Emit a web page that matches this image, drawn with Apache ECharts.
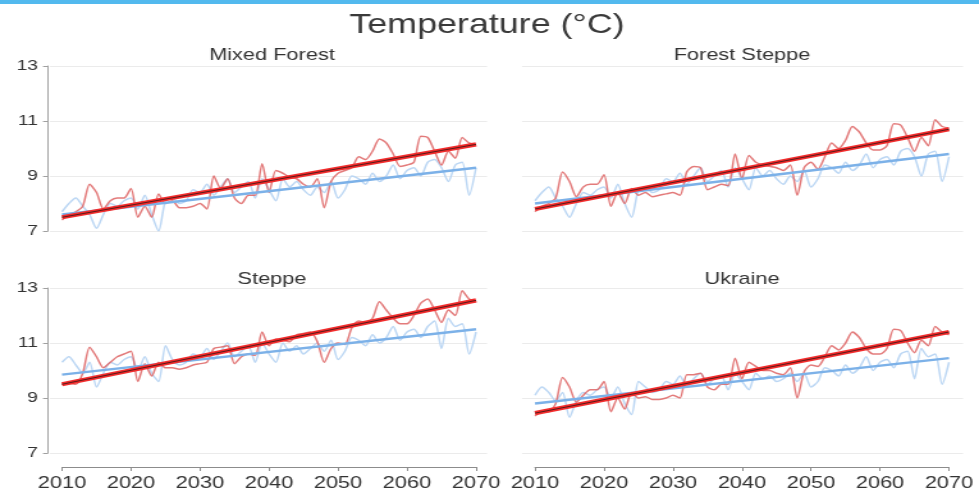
<!DOCTYPE html>
<html><head><meta charset="utf-8">
<script src="https://cdn.jsdelivr.net/npm/echarts@6/dist/echarts.min.js"></script>
<style>
html,body{margin:0;padding:0;background:#fff;overflow:hidden}
#wrap{width:979px;height:496px;overflow:hidden;position:relative;background:#fff}
#c{position:absolute;left:0;top:0;height:496px;transform-origin:0 0}
</style></head>
<body><div id="wrap"><div id="c"></div></div>
<script>
// ---------- data ----------
const years = [2010,2011,2012,2013,2014,2015,2016,2017,2018,2019,
  2020,2021,2022,2023,2024,2025,2026,2027,2028,2029,
  2030,2031,2032,2033,2034,2035,2036,2037,2038,2039,
  2040,2041,2042,2043,2044,2045,2046,2047,2048,2049,
  2050,2051,2052,2053,2054,2055,2056,2057,2058,2059,
  2060,2061,2062,2063,2064,2065,2066,2067,2068,2069,2070];
const xTicks = [2010,2020,2030,2040,2050,2060,2070];
const yTicks = [7,9,11,13];
const panelNames = ['Mixed Forest','Forest Steppe','Steppe','Ukraine'];

const mixedForestRed = [7.4,7.6,7.7,7.9,8.7,8.4,7.8,8.1,8.2,8.2,
  8.55,7.5,7.9,7.5,8.35,8.0,8.1,7.85,7.85,7.9,
  8.0,7.8,9.0,8.55,8.9,8.2,8.0,8.3,8.3,9.45,
  8.4,9.2,9.1,8.95,8.9,8.7,8.6,8.9,7.85,8.8,
  9.1,9.2,9.3,9.7,9.6,9.9,10.35,10.2,9.8,9.35,
  9.4,9.5,10.45,10.4,9.9,9.4,9.9,9.65,10.4,10.2,10.15];
const mixedForestBlue = [7.7,8.0,8.2,7.9,7.6,7.1,7.6,8.0,7.9,8.1,
  8.2,7.8,8.3,7.6,7.0,8.1,8.2,8.0,8.1,8.5,
  8.4,8.7,8.3,8.6,8.9,8.4,8.6,8.8,8.2,8.9,
  8.5,8.1,8.9,8.6,8.8,8.5,8.3,8.6,8.4,8.8,
  8.2,8.5,9.0,8.9,8.7,9.1,8.8,9.0,9.4,8.9,
  9.2,9.3,9.0,9.5,9.6,9.3,8.8,9.4,9.5,8.3,9.3];

const forestSteppeRed = [7.7,7.9,8.0,8.2,9.15,8.8,8.25,8.6,8.7,8.7,
  9.05,7.9,8.4,8.0,8.55,8.3,8.4,8.25,8.3,8.35,
  8.4,8.3,9.15,9.35,9.3,8.5,8.6,8.7,8.65,9.8,
  8.9,9.75,9.5,9.4,9.35,9.3,9.2,9.4,8.3,9.3,
  9.5,9.25,9.7,10.2,10.0,10.3,10.8,10.6,10.2,9.95,
  9.95,10.1,10.9,10.85,10.4,9.9,10.4,10.1,11.05,10.8,10.75];
const forestSteppeBlue = [8.1,8.4,8.6,8.2,7.9,7.5,8.0,8.4,8.3,8.5,
  8.6,8.2,8.7,8.0,7.5,8.5,8.6,8.4,8.5,8.9,
  8.8,9.1,8.7,9.0,9.3,8.8,9.0,9.2,8.6,9.3,
  8.9,8.5,9.3,9.0,9.2,8.9,8.7,9.0,8.8,9.2,
  8.6,8.9,9.4,9.3,9.1,9.5,9.2,9.4,9.8,9.3,
  9.6,9.7,9.4,9.9,10.0,9.7,9.0,9.8,9.9,8.8,9.7];

const steppeRed = [9.5,9.55,9.5,9.9,10.85,10.5,10.1,10.3,10.5,10.6,
  10.7,9.6,10.25,9.8,10.3,10.1,10.1,10.05,10.1,10.2,
  10.25,10.3,10.8,10.85,10.9,10.25,10.5,10.6,10.55,11.4,
  10.9,11.15,11.1,11.05,11.3,11.35,11.4,11.05,10.3,10.8,
  11.0,10.95,11.55,11.8,11.75,11.9,12.5,12.2,11.9,11.7,
  11.7,12.0,12.45,12.6,12.2,11.75,12.2,12.0,12.9,12.6,12.5];
const steppeBlue = [10.3,10.5,10.2,9.9,10.3,9.4,9.9,10.3,10.2,10.4,
  10.5,10.0,10.5,9.9,9.6,10.9,10.4,10.2,10.3,10.6,
  10.5,10.8,10.4,10.7,11.0,10.5,10.7,10.9,10.3,11.0,
  10.6,10.3,11.0,10.7,10.9,10.6,10.8,11.0,10.7,11.1,
  10.4,10.7,11.2,11.1,10.9,11.3,11.0,11.2,11.6,11.1,
  11.4,11.5,11.2,11.6,11.8,10.8,11.9,11.6,11.7,10.6,11.4];

const ukraineRed = [8.35,8.5,8.5,8.8,9.75,9.4,8.85,9.1,9.3,9.3,
  9.6,8.5,9.0,8.6,9.2,9.0,9.05,8.95,8.95,9.0,
  9.1,9.0,9.85,9.85,9.9,9.4,9.3,9.5,9.5,10.45,
  9.7,10.3,10.15,10.0,10.0,9.9,9.85,10.1,9.0,9.95,
  10.2,10.15,10.5,10.9,10.75,11.0,11.4,11.2,10.8,10.6,
  10.6,10.8,11.5,11.45,11.0,10.65,11.1,10.9,11.6,11.4,11.3];
const ukraineBlue = [9.1,9.4,9.2,8.9,9.2,8.3,8.9,9.2,9.1,9.3,
  9.4,9.0,9.4,8.8,8.4,9.6,9.4,9.2,9.3,9.6,
  9.5,9.8,9.4,9.7,9.9,9.5,9.7,9.8,9.3,9.9,
  9.6,9.3,9.9,9.7,9.8,9.6,9.7,9.9,9.6,9.9,
  9.4,9.6,10.1,10.0,9.8,10.2,9.9,10.1,10.5,10.0,
  10.3,10.4,10.1,10.6,10.7,9.7,10.8,10.5,10.6,9.5,10.3];

// trend line end values (2010, 2070)
const trendYears = [2010, 2070];
const mixedForestRedTrend = [7.5, 10.15];
const mixedForestBlueTrend = [7.6, 9.3];
const forestSteppeRedTrend = [7.8, 10.7];
const forestSteppeBlueTrend = [8.0, 9.8];
const steppeRedTrend = [9.5, 12.55];
const steppeBlueTrend = [9.85, 11.5];
const ukraineRedTrend = [8.45, 11.4];
const ukraineBlueTrend = [8.8, 10.45];

const redSeries = [mixedForestRed, forestSteppeRed, steppeRed, ukraineRed];
const blueSeries = [mixedForestBlue, forestSteppeBlue, steppeBlue, ukraineBlue];
const redTrends = [mixedForestRedTrend, forestSteppeRedTrend, steppeRedTrend, ukraineRedTrend];
const blueTrends = [mixedForestBlueTrend, forestSteppeBlueTrend, steppeBlueTrend, ukraineBlueTrend];

// ---------- layout (target pixels, canvas is stretched horizontally) ----------
const S = 979 / 765;
const hx = v => v / S;
const FONT = 'Liberation Sans, Arial, Helvetica, sans-serif';

const dataGrids = [
  {l:62, t:66, w:414, h:165}, {l:535, t:66, w:414, h:165},
  {l:62, t:288, w:414, h:165}, {l:535, t:288, w:414, h:165}
];
const bgGrids = [
  {l:50, t:66, w:437, h:165}, {l:522, t:66, w:441, h:165},
  {l:50, t:288, w:437, h:165}, {l:522, t:288, w:441, h:165}
];
const titlePos = [{x:272, y:47}, {x:742, y:47}, {x:272, y:271}, {x:742, y:271}];

const grid = [], xAxis = [], yAxis = [], series = [], title = [];

title.push({
  text: 'Temperature (°C)', left: hx(487), top: 11, textAlign: 'center', padding: 0,
  textStyle: {fontFamily: FONT, fontSize: 28, fontWeight: 'normal', color: '#3a3a3a'}
});

// background grids: split lines only
bgGrids.forEach((g, i) => {
  grid.push({left: hx(g.l), top: g.t, width: hx(g.w), height: g.h, containLabel: false});
  xAxis.push({type: 'value', gridIndex: i, min: 2010, max: 2070, show: false});
  yAxis.push({
    type: 'value', gridIndex: i, min: 7, max: 13, interval: 2,
    axisLine: {show: false}, axisTick: {show: false}, axisLabel: {show: false},
    splitLine: {show: true, lineStyle: {color: '#ebebeb', width: 1}}
  });
});

dataGrids.forEach((g, i) => {
  const gi = i + 4;
  const isLeft = (i % 2 === 0);
  const isBottom = (i >= 2);
  grid.push({left: hx(g.l), top: g.t, width: hx(g.w), height: g.h, containLabel: false});
  xAxis.push({
    type: 'value', gridIndex: gi, min: 2010, max: 2070, interval: 10,
    offset: 14,
    axisLine: {show: isBottom, lineStyle: {color: '#8c8c8c', width: 1}},
    axisTick: {show: isBottom, length: 4, inside: false, lineStyle: {color: '#8c8c8c'}},
    axisLabel: {show: isBottom, margin: 8, fontFamily: FONT, fontSize: 17, color: '#333',
      formatter: v => (xTicks.indexOf(v) >= 0 ? String(v) : '')},
    splitLine: {show: false}
  });
  yAxis.push({
    type: 'value', gridIndex: gi, min: 7, max: 13, interval: 2,
    offset: hx(14),
    axisLine: {show: isLeft, lineStyle: {color: '#a0a0a0', width: 1}},
    axisTick: {show: isLeft, length: hx(5), lineStyle: {color: '#a0a0a0'}},
    axisLabel: {show: isLeft, margin: hx(10), fontFamily: FONT, fontSize: 15, color: '#333',
      formatter: v => (yTicks.indexOf(v) >= 0 ? String(v) : '')},
    splitLine: {show: false}
  });
  title.push({
    text: panelNames[i], left: hx(titlePos[i].x), top: titlePos[i].y, textAlign: 'center', padding: 0,
    textStyle: {fontFamily: FONT, fontSize: 17, fontWeight: 'normal', color: '#333'}
  });

  const pair = arr => years.map((y, k) => [y, arr[k]]);
  const tpair = arr => trendYears.map((y, k) => [y, arr[k]]);
  series.push({
    type: 'line', xAxisIndex: gi, yAxisIndex: gi, data: pair(blueSeries[i]),
    showSymbol: false, smooth: 0.25, silent: true, z: 2,
    lineStyle: {color: '#bcd7f4', width: 1.5}
  });
  series.push({
    type: 'line', xAxisIndex: gi, yAxisIndex: gi, data: pair(redSeries[i]),
    showSymbol: false, smooth: 0.25, silent: true, z: 3,
    lineStyle: {color: 'rgba(222,100,100,0.85)', width: 1.5}
  });
  series.push({
    type: 'line', xAxisIndex: gi, yAxisIndex: gi, data: tpair(blueTrends[i]),
    showSymbol: false, silent: true, z: 4,
    lineStyle: {color: '#7cb1e8', width: 2.4}
  });
  series.push({
    type: 'line', xAxisIndex: gi, yAxisIndex: gi, data: tpair(redTrends[i]),
    showSymbol: false, silent: true, z: 5,
    lineStyle: {color: '#f22c2c', width: 4.2}
  });
  series.push({
    type: 'line', xAxisIndex: gi, yAxisIndex: gi, data: tpair(redTrends[i]),
    showSymbol: false, silent: true, z: 6,
    lineStyle: {color: '#561a1a', width: 1}
  });
});

const el = document.getElementById('c');
el.style.width = '765px';
el.style.transform = 'scaleX(' + S + ')';
const chart = echarts.init(el, null, {renderer: 'canvas', width: 765, height: 496});
chart.setOption({
  animation: false,
  backgroundColor: '#fff',
  title, grid, xAxis, yAxis, series,
  graphic: [{
    type: 'rect', left: 0, top: 0, z: 100,
    shape: {width: 765, height: 4},
    style: {fill: '#52b9ee'}
  }]
});
</script>
</body></html>
